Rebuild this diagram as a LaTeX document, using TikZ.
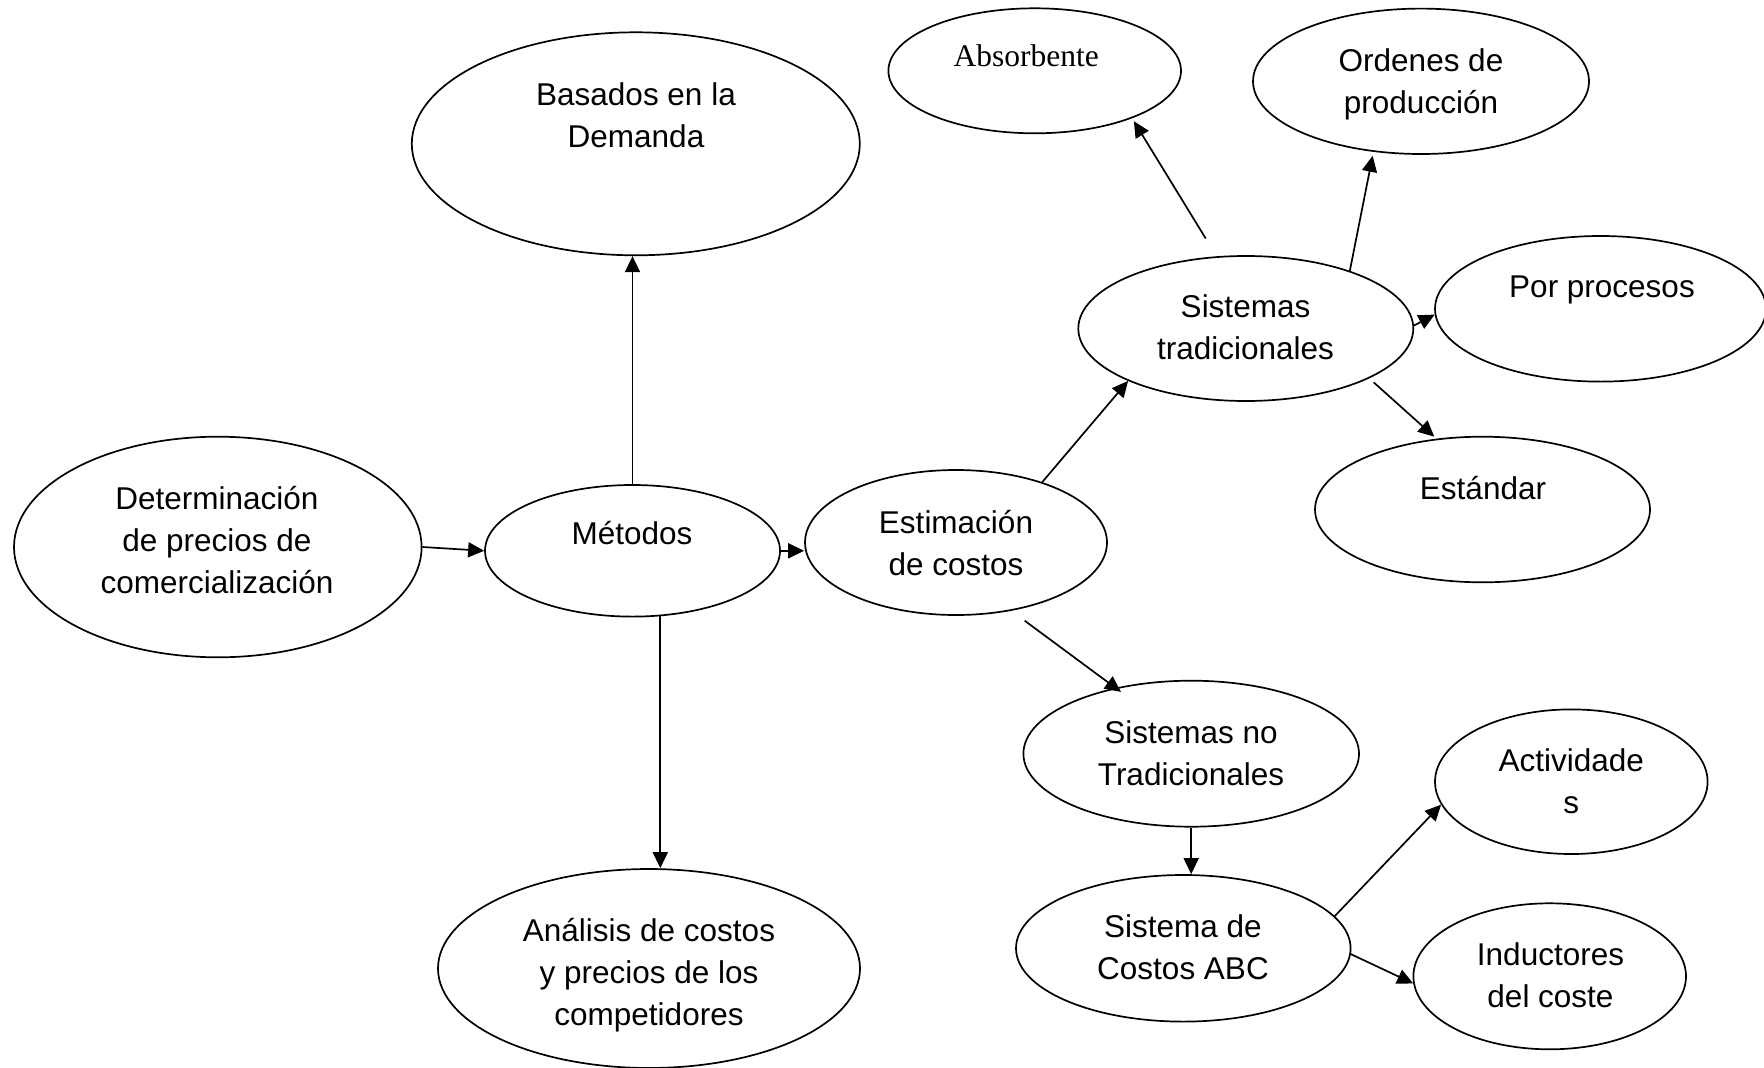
\documentclass[tikz,border=0pt]{standalone}
\usepackage{fontspec}
\setmainfont{Liberation Sans}
\newfontfamily\timesface{Liberation Serif}
\usetikzlibrary{arrows.meta,shapes.geometric}
\begin{document}
\begin{tikzpicture}[x=1pt,y=-1pt,
  bubble/.style={draw, ellipse, line width=1.7pt, inner sep=0pt},
  caption/.style={font=\fontsize{31.5}{42}\selectfont, align=center, inner sep=0pt},
  link/.style={line width=1.7pt, -{Triangle[length=16pt,width=15pt]}}]
\useasboundingbox (0,0) rectangle (1764,1068);

% ellipses
\node[bubble, minimum width=407.6pt, minimum height=220.6pt] (det) at (217.8,547) {};
\node[bubble, minimum width=295pt,   minimum height=131.6pt] (met) at (632.5,550.8) {};
\node[bubble, minimum width=448pt,   minimum height=223pt]   (bas) at (635.8,143.8) {};
\node[bubble, minimum width=422pt,   minimum height=199pt]   (ana) at (649,968.5) {};
\node[bubble, minimum width=302pt,   minimum height=145pt]   (est) at (956,542.5) {};
\node[bubble, minimum width=292.6pt, minimum height=125pt]   (abs) at (1034.7,70.8) {};
\node[bubble, minimum width=336pt,   minimum height=145.4pt] (ord) at (1421,81.3) {};
\node[bubble, minimum width=335pt,   minimum height=145pt]   (st)  at (1245.8,328.5) {};
\node[bubble, minimum width=331pt,   minimum height=145.6pt] (pp)  at (1600.5,308.8) {};
\node[bubble, minimum width=335pt,   minimum height=145.6pt] (std) at (1482.5,509.5) {};
\node[bubble, minimum width=335.6pt, minimum height=146pt]   (snt) at (1191.2,753.7) {};
\node[bubble, minimum width=334.6pt, minimum height=146.6pt] (abc) at (1183.3,948.3) {};
\node[bubble, minimum width=272.6pt, minimum height=144.6pt] (act) at (1571.3,781.7) {};
\node[bubble, minimum width=272.6pt, minimum height=146pt]   (ind) at (1549.7,976.3) {};

% texts
\node[caption] (detT) at (217,543.5) {\strut Determinación\\\strut de precios de\\\strut comercialización};
\node[caption] (metT) at (632,536) {\strut Métodos};
\node[caption] (basT) at (636,118) {\strut Basados en la\\\strut Demanda};
\node[caption] (anaT) at (649,974.8) {\strut Análisis de costos\\\strut y precios de los\\\strut competidores};
\node[caption] (estT) at (956,545.6) {\strut Estimación\\\strut de costos};
\node[caption, font=\timesface\fontsize{31.5}{42}\selectfont] (absT) at (1026.3,58.3) {\strut Absorbente};
\node[caption] (ordT) at (1421,84) {\strut Ordenes de\\\strut producción};
\node[caption] (stT)  at (1245.5,329.6) {\strut Sistemas\\\strut tradicionales};
\node[caption] (ppT)  at (1602,289) {\strut Por procesos};
\node[caption] (stdT) at (1483,490.6) {\strut Estándar};
\node[caption] (sntT) at (1191,756) {\strut Sistemas no\\\strut Tradicionales};
\node[caption] (abcT) at (1183,950.3) {\strut Sistema de\\\strut Costos ABC};
\node[caption] (actT) at (1571.3,783.6) {\strut Actividade\\\strut s};
\node[caption] (indT) at (1550.5,978.3) {\strut Inductores\\\strut del coste};

% connectors
\draw[link] (det.east) -- (met.west);
\draw[link] (met.north) -- (met.north |- bas.south);
\draw[link] (met.293) -- (met.293 |- ana.north);
\draw[link] (met.east) -- (met.east -| est.west);
\draw[link] (est.35) -- (st.204);
\draw[link, shorten <=16.7pt, shorten >=-7pt] (est.309) -- (snt.139);
\draw[link, shorten <=20.8pt, shorten >=3.4pt] (st.112) -- (abs.334);
\draw[link, shorten >=4pt] (st.29) -- (ord.236);
\draw[link] (st.1) -- (pp.182);
\draw[link, shorten <=6pt, shorten >=3pt] (st.338) -- (std.123);
\draw[link] (snt.south) -- (snt.south |- abc.north);
\draw[link] (abc.12) -- (act.190);
\draw[link] (abc.358) -- (ind.183);
\end{tikzpicture}
\end{document}
